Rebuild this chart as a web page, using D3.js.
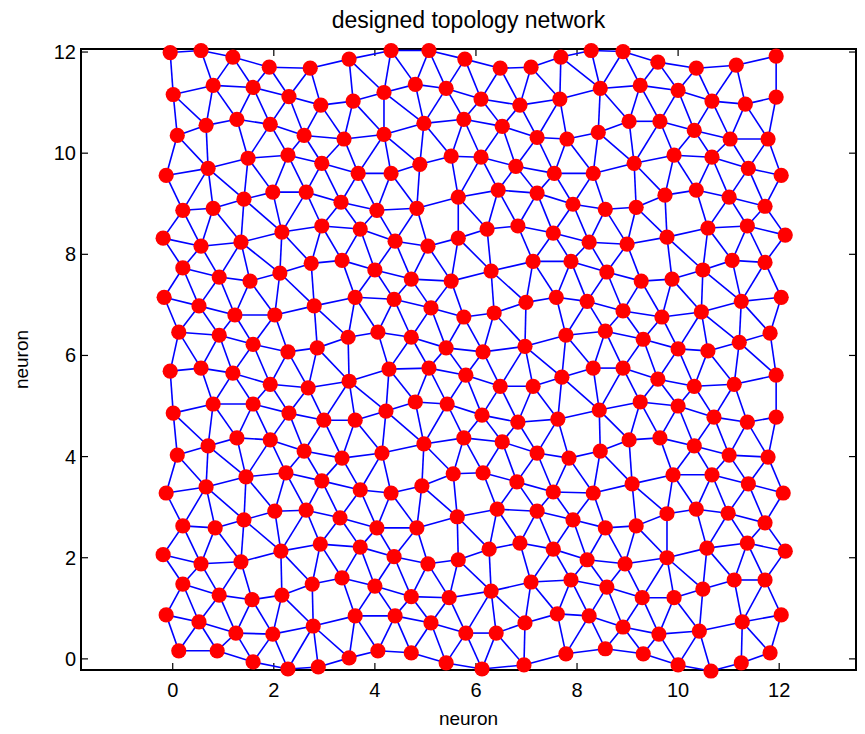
<!DOCTYPE html>
<html><head><meta charset="utf-8">
<script src="https://cdn.jsdelivr.net/npm/d3@7"></script>
<style>body{margin:0;background:#fff}svg{display:block}text{font-family:"Liberation Sans",Arial,sans-serif;fill:#000}</style>
</head><body><svg id="c" width="865" height="734"></svg>
<script>
const titleText = "designed topology network";
const xLabel = "neuron", yLabel = "neuron";
const xTicks = [0,2,4,6,8,10,12];
const yTicks = [0,2,4,6,8,10,12];
const linkDistance = 1;
const neuronX = [
-0.05,0.56,1.19,1.91,2.72,3.49,4.32,5.07,5.78,6.48,7.09,7.68,8.28,8.91,9.60,10.36,11.15,11.94,
0.01,0.80,1.59,2.30,2.93,3.57,4.18,4.80,5.41,6.10,6.87,7.66,8.46,9.25,10.00,10.67,11.33,11.94,
0.09,0.66,1.27,1.93,2.60,3.39,4.18,4.97,5.76,6.52,7.21,7.80,8.42,9.03,9.64,10.32,11.03,11.78,
-0.13,0.70,1.49,2.28,2.95,3.67,4.32,4.89,5.51,6.10,6.79,7.55,8.32,9.13,9.92,10.67,11.39,12.04,
0.20,0.80,1.41,1.98,2.64,3.33,4.04,4.83,5.65,6.44,7.21,7.92,8.56,9.17,9.74,10.36,11.01,11.72,
-0.19,0.56,1.35,2.16,2.95,3.71,4.40,5.05,5.65,6.22,6.83,7.53,8.24,8.99,9.78,10.59,11.37,12.12,
0.20,0.92,1.53,2.12,2.74,3.35,4.00,4.72,5.51,6.30,7.13,7.88,8.59,9.27,9.88,10.49,11.07,11.72,
-0.17,0.52,1.23,2.02,2.80,3.61,4.38,5.11,5.76,6.36,6.99,7.59,8.20,8.91,9.68,10.46,11.25,12.04,
0.12,0.92,1.59,2.28,2.86,3.47,4.06,4.72,5.41,6.14,6.97,7.78,8.56,9.31,10.00,10.59,11.21,11.82,
-0.05,0.56,1.19,1.93,2.68,3.49,4.28,5.07,5.80,6.48,7.13,7.70,8.32,8.91,9.60,10.32,11.11,11.94,
0.01,0.80,1.59,2.30,2.99,3.61,4.22,4.80,5.43,6.12,6.83,7.62,8.44,9.25,10.00,10.71,11.37,11.94,
0.09,0.70,1.27,1.93,2.60,3.35,4.14,4.97,5.76,6.52,7.21,7.84,8.46,9.03,9.64,10.32,11.01,11.78,
-0.13,0.66,1.45,2.24,2.95,3.71,4.32,4.93,5.55,6.14,6.81,7.53,8.32,9.09,9.90,10.67,11.39,12.08,
0.20,0.84,1.41,2.02,2.64,3.31,4.04,4.83,5.63,6.42,7.21,7.92,8.56,9.17,9.78,10.36,10.99,11.72,
-0.19,0.56,1.35,2.14,2.92,3.71,4.38,5.05,5.65,6.26,6.87,7.53,8.20,8.95,9.78,10.57,11.37,12.12,
0.20,0.92,1.57,2.16,2.76,3.35,4.00,4.72,5.47,6.30,7.09,7.88,8.59,9.29,9.92,10.49,11.11,11.72,
-0.13,0.52,1.25,1.98,2.78,3.61,4.40,5.11,5.80,6.40,6.97,7.61,8.24,8.91,9.62,10.42,11.27,12.04,
0.12,0.88,1.59,2.28,2.88,3.49,4.06,4.72,5.41,6.12,6.95,7.78,8.56,9.31,10.00,10.65,11.25,11.82
];
const neuronY = [
11.99,12.03,11.90,11.70,11.68,11.86,12.03,12.03,11.86,11.68,11.70,11.90,12.03,12.01,11.80,11.68,11.74,11.92,
11.16,11.34,11.30,11.12,10.95,11.03,11.20,11.36,11.28,11.07,10.95,11.07,11.28,11.34,11.24,11.03,10.97,11.11,
10.35,10.55,10.67,10.57,10.35,10.28,10.37,10.59,10.67,10.53,10.31,10.28,10.41,10.63,10.63,10.45,10.28,10.28,
9.56,9.70,9.90,9.96,9.80,9.60,9.60,9.78,9.94,9.92,9.74,9.60,9.60,9.80,9.96,9.92,9.70,9.56,
8.87,8.91,9.09,9.23,9.23,9.03,8.87,8.91,9.13,9.27,9.21,8.99,8.89,8.93,9.17,9.27,9.13,8.95,
8.32,8.16,8.24,8.44,8.56,8.50,8.26,8.16,8.32,8.50,8.56,8.42,8.24,8.20,8.34,8.52,8.56,8.38,
7.73,7.55,7.47,7.63,7.82,7.88,7.69,7.51,7.47,7.67,7.86,7.86,7.65,7.47,7.51,7.69,7.88,7.84,
7.15,6.98,6.80,6.80,6.98,7.15,7.11,6.94,6.76,6.84,7.05,7.15,7.07,6.88,6.76,6.86,7.07,7.15,
6.46,6.40,6.22,6.07,6.15,6.36,6.46,6.36,6.15,6.07,6.18,6.40,6.48,6.32,6.13,6.09,6.26,6.44,
5.69,5.75,5.65,5.43,5.36,5.49,5.73,5.75,5.61,5.39,5.39,5.57,5.75,5.75,5.53,5.39,5.43,5.61,
4.86,5.04,5.04,4.86,4.72,4.72,4.90,5.08,5.04,4.82,4.68,4.74,4.92,5.08,5.00,4.78,4.68,4.78,
4.03,4.21,4.37,4.33,4.11,3.97,4.07,4.25,4.37,4.29,4.07,3.97,4.11,4.33,4.37,4.21,4.03,3.99,
3.28,3.40,3.60,3.68,3.52,3.34,3.28,3.42,3.66,3.68,3.50,3.30,3.28,3.46,3.64,3.64,3.46,3.28,
2.63,2.59,2.75,2.92,2.94,2.79,2.59,2.59,2.81,2.96,2.92,2.75,2.59,2.63,2.87,2.96,2.88,2.69,
2.06,1.88,1.92,2.13,2.27,2.21,2.02,1.88,1.96,2.17,2.29,2.17,1.96,1.88,2.00,2.19,2.29,2.13,
1.48,1.26,1.17,1.26,1.48,1.60,1.44,1.23,1.21,1.34,1.52,1.56,1.42,1.21,1.21,1.38,1.56,1.56,
0.87,0.73,0.51,0.49,0.65,0.85,0.85,0.71,0.51,0.51,0.71,0.89,0.85,0.63,0.49,0.55,0.73,0.87,
0.16,0.16,-0.06,-0.20,-0.16,0.02,0.16,0.12,-0.08,-0.20,-0.12,0.10,0.20,0.10,-0.12,-0.24,-0.08,0.12
];
const xDomain = [-1.815, 13.52];
const yDomain = [-0.22, 12.06];

const svg = d3.select("#c");
const L = 81, R = 856, T = 49, B = 670;
const x = d3.scaleLinear().domain(xDomain).range([L, R]);
const y = d3.scaleLinear().domain(yDomain).range([B, T]);
const pts = neuronX.map((v, i) => ({x: v, y: neuronY[i]}));

// links: neurons within Euclidean distance 1
const links = [];
for (let i = 0; i < pts.length; i++)
  for (let j = i + 1; j < pts.length; j++) {
    const d = Math.hypot(pts[i].x - pts[j].x, pts[i].y - pts[j].y);
    if (d <= linkDistance) links.push([pts[i], pts[j]]);
  }

const tl = 7;
const ax = svg.append("g");
ax.append("rect").attr("x", L).attr("y", T).attr("width", R - L).attr("height", B - T)
  .attr("fill", "none").attr("stroke", "#000").attr("stroke-width", 2);
const gx = ax.append("g");
xTicks.forEach(t => {
  gx.append("line").attr("x1", x(t)).attr("x2", x(t)).attr("y1", B).attr("y2", B - tl).attr("stroke", "#000").attr("stroke-width", 1.2);
  gx.append("line").attr("x1", x(t)).attr("x2", x(t)).attr("y1", T).attr("y2", T + tl).attr("stroke", "#000").attr("stroke-width", 1.2);
  gx.append("text").attr("x", x(t)).attr("y", B + 27).attr("text-anchor", "middle").style("font-size", "20px").text(t);
});
yTicks.forEach(t => {
  gx.append("line").attr("x1", L).attr("x2", L + tl).attr("y1", y(t)).attr("y2", y(t)).attr("stroke", "#000").attr("stroke-width", 1.2);
  gx.append("line").attr("x1", R).attr("x2", R - tl).attr("y1", y(t)).attr("y2", y(t)).attr("stroke", "#000").attr("stroke-width", 1.2);
  gx.append("text").attr("x", L - 5).attr("y", y(t)).attr("dy", "0.35em").attr("text-anchor", "end").style("font-size", "20px").text(t);
});

svg.append("g").selectAll("line").data(links).join("line")
  .attr("x1", d => x(d[0].x)).attr("y1", d => y(d[0].y))
  .attr("x2", d => x(d[1].x)).attr("y2", d => y(d[1].y))
  .attr("stroke", "#0000ff").attr("stroke-width", 1.6);

svg.append("g").selectAll("circle").data(pts).join("circle")
  .attr("cx", d => x(d.x)).attr("cy", d => y(d.y)).attr("r", 7.6).attr("fill", "#ff0000");

svg.append("text").attr("x", (L + R) / 2).attr("y", 28).attr("text-anchor", "middle").style("font-size", "23px").text(titleText);
svg.append("text").attr("x", (L + R) / 2).attr("y", 725).attr("text-anchor", "middle").style("font-size", "19px").text(xLabel);
svg.append("text").attr("transform", `translate(28,${(T + B) / 2}) rotate(-90)`).attr("text-anchor", "middle").style("font-size", "19px").text(yLabel);
</script></body></html>
